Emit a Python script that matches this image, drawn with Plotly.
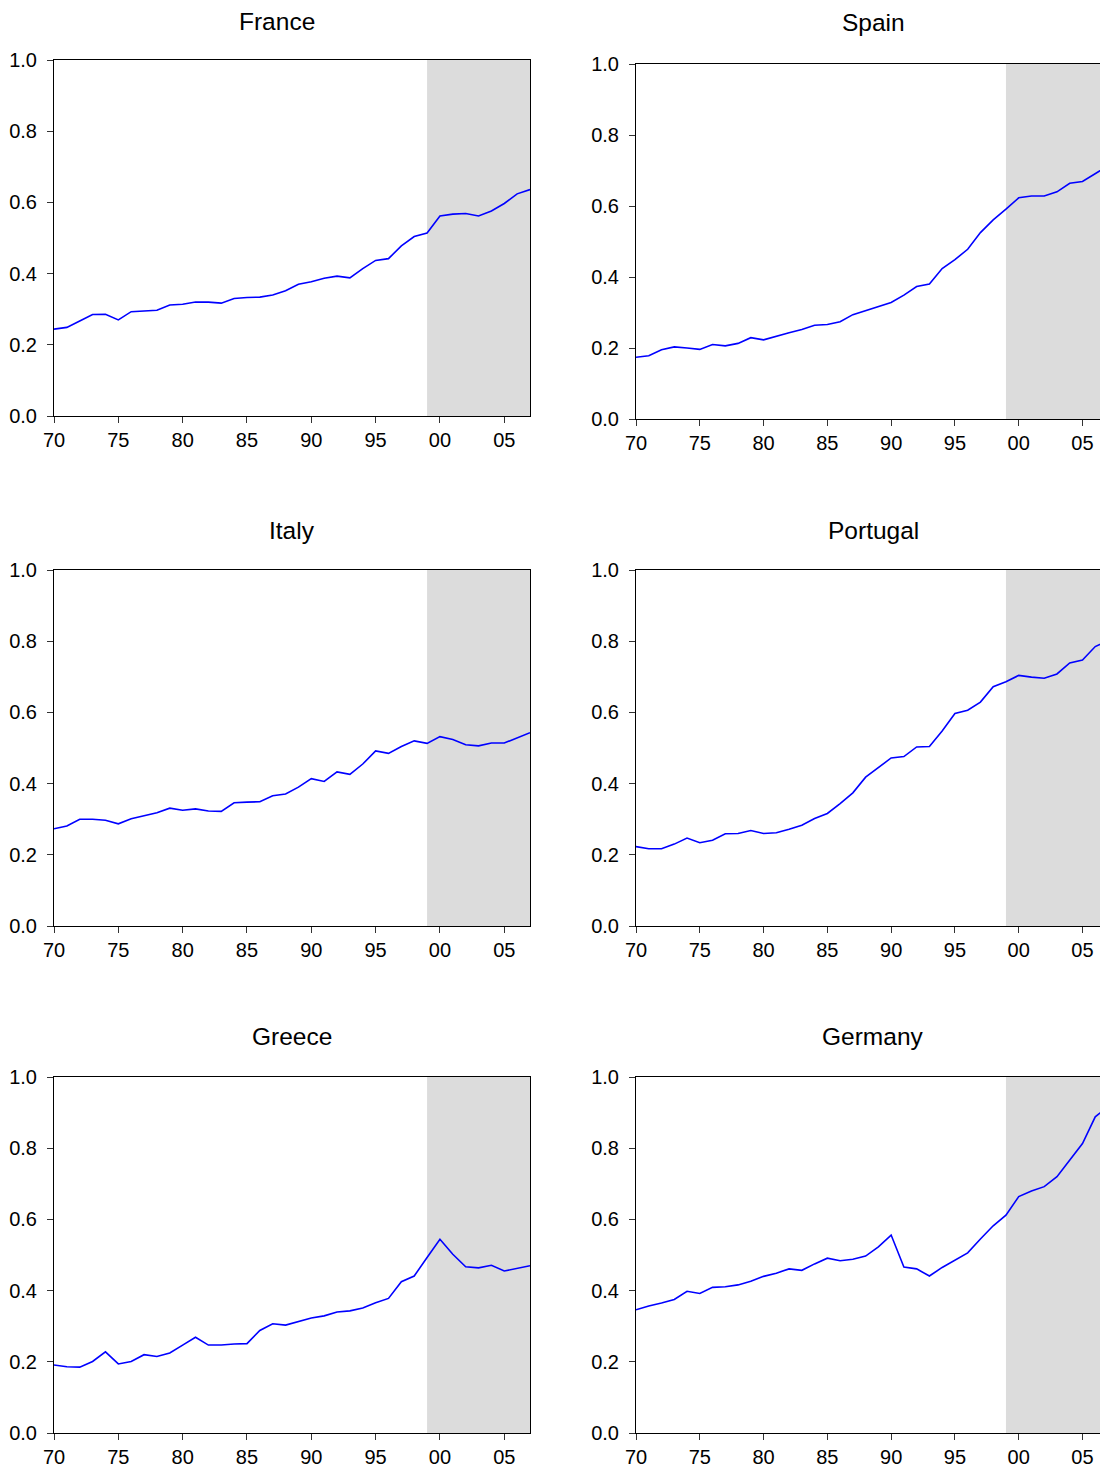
import plotly.graph_objects as go

# ── data ─────────────────────────────────────────────────────────────────────

YEARS = list(range(1970, 2008))
SHADE_START = 1999
SHADE_END = 2007

FRANCE = [0.244, 0.249, 0.267, 0.285, 0.286, 0.270, 0.293, 0.296, 0.297, 0.312,
          0.314, 0.320, 0.320, 0.317, 0.330, 0.333, 0.334, 0.340, 0.352, 0.370,
          0.377, 0.387, 0.393, 0.388, 0.414, 0.437, 0.442, 0.478, 0.504, 0.514,
          0.562, 0.567, 0.569, 0.562, 0.576, 0.597, 0.624, 0.636]
SPAIN = [0.174, 0.178, 0.195, 0.203, 0.200, 0.196, 0.210, 0.206, 0.213, 0.229,
         0.223, 0.234, 0.243, 0.252, 0.264, 0.266, 0.274, 0.294, 0.305, 0.317,
         0.328, 0.349, 0.373, 0.380, 0.424, 0.449, 0.478, 0.525, 0.561, 0.591,
         0.623, 0.628, 0.628, 0.640, 0.664, 0.669, 0.691, 0.713]
ITALY = [0.273, 0.281, 0.300, 0.300, 0.297, 0.287, 0.301, 0.310, 0.318, 0.331,
         0.325, 0.329, 0.323, 0.322, 0.346, 0.348, 0.349, 0.366, 0.371, 0.390,
         0.414, 0.406, 0.433, 0.426, 0.455, 0.492, 0.485, 0.504, 0.520, 0.513,
         0.532, 0.524, 0.509, 0.506, 0.514, 0.514, 0.528, 0.543]
PORTUGAL = [0.223, 0.217, 0.217, 0.230, 0.247, 0.234, 0.241, 0.259, 0.260, 0.268,
            0.260, 0.262, 0.272, 0.283, 0.302, 0.316, 0.344, 0.374, 0.418, 0.444,
            0.472, 0.476, 0.503, 0.504, 0.548, 0.597, 0.606, 0.629, 0.672, 0.686,
            0.704, 0.699, 0.696, 0.708, 0.739, 0.747, 0.785, 0.802]
GREECE = [0.191, 0.186, 0.185, 0.201, 0.228, 0.194, 0.201, 0.220, 0.215, 0.225,
          0.247, 0.269, 0.247, 0.247, 0.250, 0.251, 0.288, 0.307, 0.303, 0.313,
          0.323, 0.329, 0.340, 0.343, 0.351, 0.366, 0.378, 0.425, 0.441, 0.493,
          0.544, 0.502, 0.467, 0.464, 0.471, 0.455, 0.463, 0.470]
GERMANY = [0.346, 0.357, 0.365, 0.375, 0.398, 0.392, 0.409, 0.411, 0.416, 0.426,
           0.440, 0.449, 0.461, 0.457, 0.475, 0.491, 0.484, 0.488, 0.497, 0.523,
           0.556, 0.466, 0.461, 0.441, 0.465, 0.486, 0.506, 0.545, 0.582, 0.612,
           0.664, 0.680, 0.692, 0.720, 0.768, 0.813, 0.888, 0.917]

X_TICKS = [1970, 1975, 1980, 1985, 1990, 1995, 2000, 2005]
X_LABELS = ["70", "75", "80", "85", "90", "95", "00", "05"]
Y_TICKS = [0.0, 0.2, 0.4, 0.6, 0.8, 1.0]
Y_LABELS = ["0.0", "0.2", "0.4", "0.6", "0.8", "1.0"]

# ── layout ───────────────────────────────────────────────────────────────────

OFF = 8  # page body margin: the plot div starts 8px in from the window corner
W, H = 1108 - OFF, 1470 - OFF  # fit the window exactly, no scrollbars
FONT = "Liberation Sans, Arial, sans-serif"


def px_x(a, b):
    return [(a - OFF) / W, min((b - OFF) / W, 1.0)]


def px_y(top, bottom):
    return [(H - bottom + OFF) / H, (H - top + OFF) / H]


# name, series, x-domain px, y-domain px, title centre px, right column?
PANELS = [
    ("France", FRANCE, (54, 530), (60, 416), (277, 21), False),
    ("Spain", SPAIN, (636, 1108), (64, 419), (873, 23), True),
    ("Italy", ITALY, (54, 530), (570, 926), (292, 530), False),
    ("Portugal", PORTUGAL, (636, 1108), (570, 926), (873, 530), True),
    ("Greece", GREECE, (54, 530), (1077, 1433), (292, 1036), False),
    ("Germany", GERMANY, (636, 1108), (1077, 1433), (873, 1036), True),
]

fig = go.Figure()
layout = {}
shapes = []
annotations = []

for i, (name, vals, xd, yd, tpos, right) in enumerate(PANELS, start=1):
    sfx = "" if i == 1 else str(i)
    fig.add_trace(go.Scatter(
        x=YEARS, y=vals, mode="lines", name=name,
        line=dict(color="#0000ff", width=1.6),
        xaxis="x" + sfx, yaxis="y" + sfx, showlegend=False,
    ))
    layout["xaxis" + sfx] = dict(
        domain=px_x(*xd), anchor="y" + sfx, range=[1970, 2007], automargin=False,
        tickvals=X_TICKS, ticktext=X_LABELS,
        showgrid=False, zeroline=False,
        showline=True, linecolor="black", linewidth=1, mirror=True,
        ticks="outside", ticklen=6, tickcolor="#333333",
        tickfont=dict(size=20, color="black", family=FONT),
    )
    layout["yaxis" + sfx] = dict(
        domain=px_y(*yd), anchor="x" + sfx, range=[0, 1], automargin=False,
        tickvals=Y_TICKS, ticktext=Y_LABELS,
        showgrid=False, zeroline=False,
        showline=True, linecolor="black", linewidth=1, mirror=not right,
        ticks="outside", ticklen=6, tickcolor="#333333",
        ticklabelstandoff=6,
        tickfont=dict(size=20, color="black", family=FONT),
    )
    shapes.append(dict(
        type="rect", xref="x" + sfx, yref="y" + sfx,
        x0=SHADE_START, x1=SHADE_END, y0=0, y1=1,
        fillcolor="#dcdcdc", line_width=0, layer="below",
    ))
    annotations.append(dict(
        text=name, x=(tpos[0] - OFF) / W, y=1 - (tpos[1] - OFF) / H,
        xref="paper", yref="paper", xanchor="center", yanchor="middle",
        showarrow=False, font=dict(size=24.5, color="black", family=FONT),
    ))

fig.update_layout(
    **layout,
    width=W, height=H,
    margin=dict(l=0, r=0, t=0, b=0),
    plot_bgcolor="white", paper_bgcolor="white",
    font=dict(family=FONT, color="black"),
    shapes=shapes, annotations=annotations,
)

fig.write_html("out.html")
